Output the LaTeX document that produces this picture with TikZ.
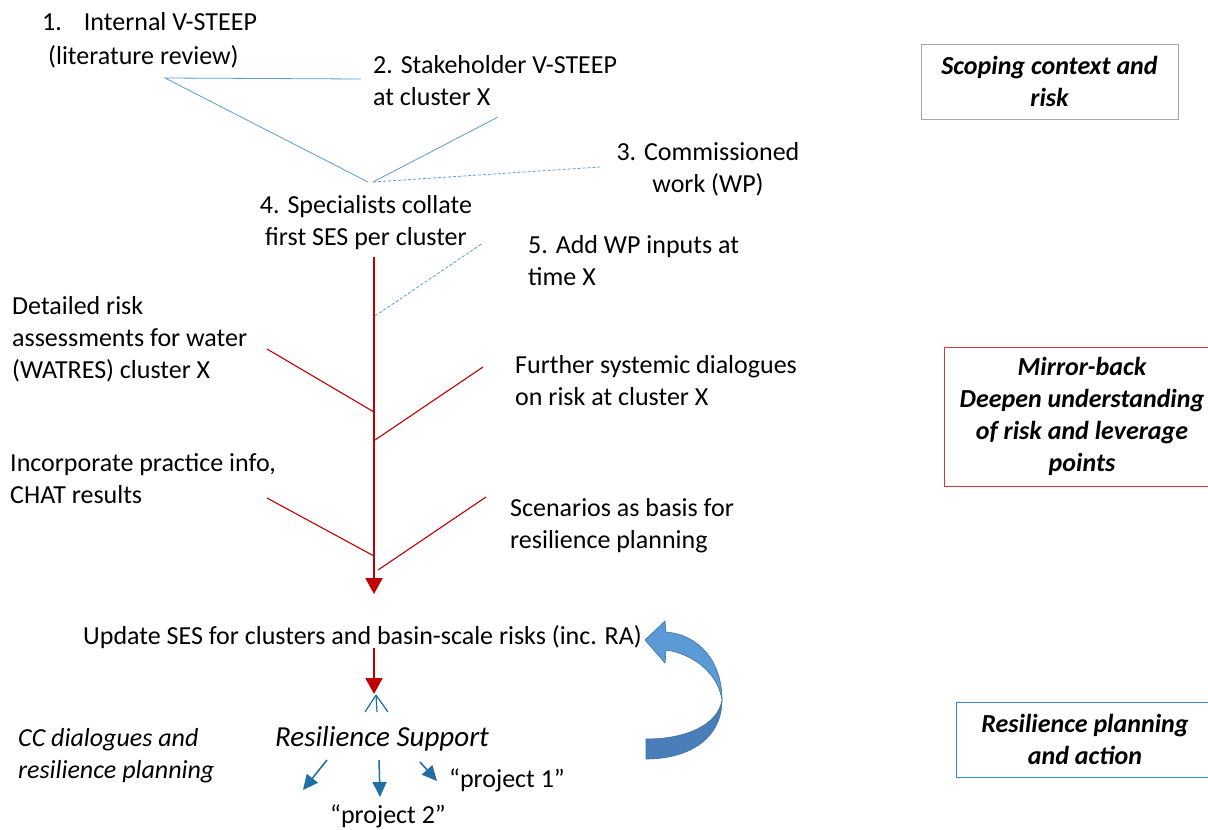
\documentclass[tikz,border=0pt]{standalone}
\usepackage{fontspec}
\setmainfont{Carlito}
\usetikzlibrary{arrows.meta}
\definecolor{lineblue}{HTML}{5B9BD5}
\definecolor{riskred}{HTML}{C00000}
\definecolor{actblue}{HTML}{1F6FA5}
\definecolor{boxgray}{HTML}{A6A6A6}
\definecolor{boxred}{HTML}{D23B3B}
\definecolor{boxblue}{HTML}{3B87CF}
\definecolor{loopfront}{HTML}{5B9BD5}
\definecolor{loopback}{HTML}{4A7EB8}
\definecolor{loopedge}{HTML}{41719C}
\begin{document}
\begin{tikzpicture}[x=1pt,y=-1pt,
  % multi-line labels are anchored on the baseline of their last line
  lbl/.style={inner sep=0pt, anchor=base west, align=left,
    font=\fontsize{26}{32}\selectfont},
  clbl/.style={inner sep=0pt, anchor=base, align=center,
    font=\fontsize{26}{32}\selectfont},
  ilbl/.style={lbl, font=\fontsize{26}{32}\selectfont\itshape},
  phase/.style={inner sep=0pt, align=center,
    font=\fontsize{26}{32}\selectfont\bfseries\itshape},
  scoping/.style={draw=lineblue, line width=0.8pt},
  scopingdash/.style={draw=lineblue, line width=0.8pt, dash pattern=on 3pt off 2pt},
  branch/.style={draw=riskred, line width=1.1pt},
  redarrow/.style={draw=riskred, line width=2pt, -{Triangle[width=17pt,length=16pt]}},
  bluearrow/.style={draw=actblue, line width=1.5pt, -{Triangle[width=14pt,length=15pt]}},
]
\clip (0,0) rectangle (1208,830);
\fill[white] (0,0) rectangle (1208,830);

% ---- text labels ----
\node[lbl] (s1) at (42,64) {1.\hspace{22pt}Internal V-STEEP\\[2pt]\hspace*{6pt}(literature review)};
\node[lbl] (s2) at (373,105) {2. Stakeholder V-STEEP\\at cluster X};
\node[clbl] (s3) at (708,192) {3. Commissioned\\work (WP)};
\node[clbl] (s4) at (366,245) {4. Specialists collate\\first SES per cluster};
\node[lbl] (s5) at (528,285) {5. Add WP inputs at\\time X};
\node[lbl] (wat) at (12,378) {Detailed risk\\assessments for water\\(WATRES) cluster X};
\node[lbl] (dia) at (515,405) {Further systemic dialogues\\on risk at cluster X};
\node[lbl] (chat) at (10,503) {Incorporate practice info,\\CHAT results};
\node[lbl] (scen) at (510,548) {Scenarios as basis for\\resilience planning};
\node[lbl] (upd) at (83,644) {Update SES for clusters and basin-scale risks (inc. RA)};
\node[inner sep=0pt, anchor=base west, font=\fontsize{29}{34}\selectfont\itshape]
  (rs) at (275,746) {Resilience Support};
\node[lbl] (p1) at (449,787) {“project 1”};
\node[lbl] (p2) at (330,823) {“project 2”};
\node[ilbl] (cc) at (18,778) {CC dialogues and\\resilience planning};

% ---- phase boxes ----
\draw[boxgray, line width=0.8pt] (921,44) rectangle (1178,119);
\node[phase] (ph1) at (1049.5,81.5) {Scoping context and\\risk};
\draw[boxred, line width=1pt] (944,347) rectangle (1220,486);
\node[phase] (ph2) at (1082,416.5) {Mirror-back\\Deepen understanding\\of risk and leverage\\points};
\draw[boxblue, line width=1pt] (956,702) rectangle (1214,777);
\node[phase] (ph3) at (1085,739.5) {Resilience planning\\and action};

% ---- scoping funnel ----
\coordinate (a1) at (165,78);
\coordinate (a2) at (361,79);
\coordinate (a3) at (498,117);
\coordinate (a4) at (600,167);
\coordinate (j1) at (368,182);
\coordinate (j2) at (373,182);
\draw[scoping] (a2) -- (a1) -- (j1);
\draw[scoping] (j2) -- (a3);
\draw[scopingdash] (j2) -- (a4);

% ---- risk trunk and branches ----
\coordinate (t0) at (374,257);
\coordinate (t1) at (374,594);
\draw[redarrow] (t0) -- (t1);
\coordinate (w5) at (483,243);
\coordinate (k5) at (375,316);
\draw[scopingdash] (k5) -- (w5);
\coordinate (b1) at (267,349);  \coordinate (k1) at (374,412);
\coordinate (b2) at (483,367);  \coordinate (k2) at (375,440);
\coordinate (b3) at (267,498);  \coordinate (k3) at (374,556);
\coordinate (b4) at (486,497);  \coordinate (k4) at (378,570);
\draw[branch] (b1) -- (k1);
\draw[branch] (b2) -- (k2);
\draw[branch] (b3) -- (k3);
\draw[branch] (b4) -- (k4);

% ---- update to resilience support ----
\coordinate (u0) at (374,648);
\coordinate (u1) at (374,694);
\draw[redarrow] (u0) -- (u1);
\coordinate (f0) at (376,695);
\draw[actblue, line width=1.2pt] (f0) -- (365,712);
\draw[actblue, line width=1.2pt] (f0) -- (377,712);
\draw[actblue, line width=1.2pt] (f0) -- (388,712);

% ---- project arrows ----
\coordinate (r1) at (327,760); \coordinate (r1t) at (303,790);
\coordinate (r2) at (379,760); \coordinate (r2t) at (380,797);
\coordinate (r3) at (420,762); \coordinate (r3t) at (437,781);
\draw[bluearrow] (r1) -- (r1t);
\draw[bluearrow] (r2) -- (r2t);
\draw[bluearrow] (r3) -- (r3t);

% ---- feedback loop (curved block arrow) ----
\filldraw[fill=loopback, draw=loopedge, line width=0.6pt]
  (722,700) .. controls (722,738) and (690,759) .. (646,759)
  -- (646,739) .. controls (688,739) and (718,724) .. (722,700) -- cycle;
\filldraw[fill=loopfront, draw=loopedge, line width=0.6pt]
  (722,700) .. controls (722,662) and (700,635) .. (666,632)
  -- (665,621) -- (645,640) -- (665,663) -- (666,650)
  .. controls (693,654) and (718,673) .. (722,700) -- cycle;
\end{tikzpicture}
\end{document}
